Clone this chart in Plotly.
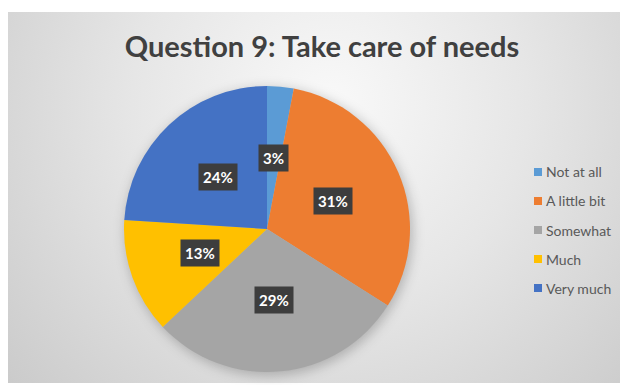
import base64
import math
import plotly.graph_objects as go

# Survey answers for question 9
categories = ["Not at all", "A little bit", "Somewhat", "Much", "Very much"]
percentages = [3, 31, 29, 13, 24]
colors = ["#5B9BD5", "#ED7D31", "#A5A5A5", "#FFC000", "#4472C4"]
title_text = "Question 9: Take care of needs"

W, H = 620, 385

# Pie geometry in pixels (centre and radius), converted to a paper domain
PIE_CX, PIE_CY, PIE_R = 267, 229, 143
x_dom = [(PIE_CX - PIE_R) / W, (PIE_CX + PIE_R) / W]
y_dom = [1 - (PIE_CY + PIE_R) / H, 1 - (PIE_CY - PIE_R) / H]

# Chart-area background: soft radial grey gradient plus a blurred pie shadow
svg = f"""<svg xmlns="http://www.w3.org/2000/svg" width="{W}" height="{H}" viewBox="0 0 {W} {H}">
<defs>
<radialGradient id="g" gradientUnits="userSpaceOnUse" cx="330" cy="105" r="440">
<stop offset="0" stop-color="#f9f9f9"/>
<stop offset="0.45" stop-color="#e6e6e6"/>
<stop offset="1" stop-color="#c9c9c9"/>
</radialGradient>
<filter id="b" x="-30%" y="-30%" width="160%" height="160%"><feGaussianBlur stdDeviation="6"/></filter>
</defs>
<rect width="{W}" height="{H}" fill="#ffffff"/>
<rect x="8" y="12" width="{W - 8}" height="371" fill="url(#g)"/>
<circle cx="{PIE_CX + 2}" cy="{PIE_CY + 3}" r="{PIE_R + 1}" fill="#000" fill-opacity="0.22" filter="url(#b)"/>
</svg>"""
bg_uri = "data:image/svg+xml;base64," + base64.b64encode(svg.encode()).decode()

fig = go.Figure()
fig.add_trace(go.Pie(
    labels=categories,
    values=percentages,
    marker=dict(colors=colors, line=dict(width=0)),
    sort=False,
    direction="clockwise",
    rotation=0,
    textinfo="none",
    hoverinfo="label+percent",
    showlegend=False,
    domain=dict(x=x_dom, y=y_dom),
))

annotations = []
shapes = []

# Value labels in dark boxes, placed halfway out along each slice's mid-angle
total = sum(percentages)
cum = 0
for v in percentages:
    mid = (cum + v / 2) / total * 2 * math.pi
    cum += v
    px = PIE_CX + 0.5 * PIE_R * math.sin(mid)
    py = PIE_CY - 0.5 * PIE_R * math.cos(mid)
    annotations.append(dict(
        x=px / W, y=1 - py / H, xref="paper", yref="paper",
        text=f"<b>{v}%</b>", showarrow=False,
        font=dict(family="Lato", size=15, color="#ffffff"),
        bgcolor="#3d3d3d", borderpad=4,
        xanchor="center", yanchor="middle",
    ))

# Legend: coloured squares with category names
LEG_X, LEG_Y0, LEG_DY, SQ = 538, 172, 29, 8
for i, (name, col) in enumerate(zip(categories, colors)):
    yc = LEG_Y0 + i * LEG_DY
    shapes.append(dict(
        type="rect", xref="paper", yref="paper",
        x0=(LEG_X - SQ / 2) / W, x1=(LEG_X + SQ / 2) / W,
        y0=1 - (yc + SQ / 2) / H, y1=1 - (yc - SQ / 2) / H,
        fillcolor=col, line=dict(width=0), layer="above",
    ))
    annotations.append(dict(
        x=(LEG_X + 6) / W, y=1 - yc / H, xref="paper", yref="paper",
        text=name, showarrow=False, xanchor="left", yanchor="middle",
        font=dict(family="Lato", size=14, color="#595959"),
    ))

fig.update_layout(
    width=W, height=H,
    margin=dict(l=0, r=0, t=0, b=0),
    paper_bgcolor="#ffffff",
    plot_bgcolor="rgba(0,0,0,0)",
    title=dict(
        text=f"<b>{title_text}</b>",
        x=322 / W, xanchor="center",
        y=1 - 47 / H, yanchor="middle",
        font=dict(family="Lato", size=29, color="#404040"),
    ),
    images=[dict(
        source=bg_uri, xref="paper", yref="paper",
        x=0, y=1, sizex=1, sizey=1, xanchor="left", yanchor="top",
        sizing="stretch", layer="below",
    )],
    annotations=annotations,
    shapes=shapes,
    showlegend=False,
)

fig.write_html("out.html")
